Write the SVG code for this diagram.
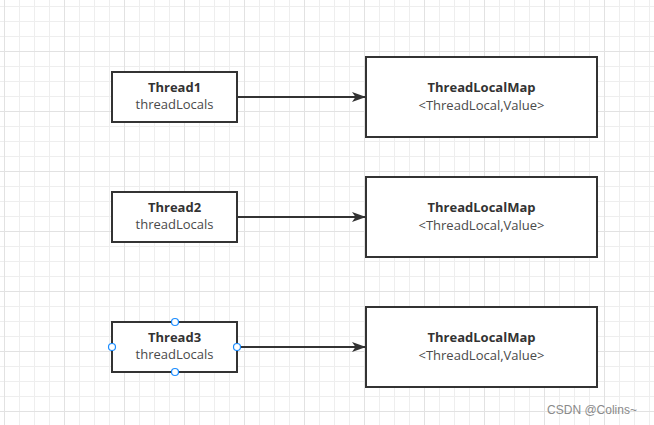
<svg xmlns="http://www.w3.org/2000/svg" width="654" height="425" viewBox="0 0 654 425">
<defs>
<pattern id="minor" x="4" y="6" width="15" height="15" patternUnits="userSpaceOnUse">
<path d="M0.5 0V15M0 0.5H15" stroke="#eeeeee" stroke-width="1" fill="none"/>
</pattern>
<pattern id="major" x="4" y="51" width="60" height="60" patternUnits="userSpaceOnUse">
<path d="M0.5 0V60M0 0.5H60" stroke="#e2e2e2" stroke-width="1" fill="none"/>
</pattern>
<marker id="arr" markerWidth="14" markerHeight="10" refX="13" refY="5" orient="auto" markerUnits="userSpaceOnUse">
<path d="M0 0L14 5L0 10L3.5 5Z" fill="#333333"/>
</marker>
</defs>
<style>
.box{fill:#ffffff;stroke:#333333;stroke-width:2}
.t{font-family:"Open Sans","Noto Sans",sans-serif;font-size:13px;fill:#333333;text-anchor:middle}
.b{font-weight:bold}
.s{fill:#4a4a4a}
.edge{stroke:#333333;stroke-width:2;fill:none}
.h{fill:#ffffff;stroke:#1a8cff;stroke-width:1.2}
</style>
<rect width="654" height="425" fill="#ffffff"/>
<rect width="654" height="425" fill="url(#minor)"/>
<rect width="654" height="425" fill="url(#major)"/>
<g id="connectors">
<path class="edge" d="M237 97H365" marker-end="url(#arr)"/>
<path class="edge" d="M237 217H365" marker-end="url(#arr)"/>
<path class="edge" d="M237 347H365" marker-end="url(#arr)"/>
</g>
<g id="thread1">
<rect class="box" x="112" y="72" width="125" height="50"/>
<text class="t b" x="174.5" y="92">Thread1</text>
<text class="t s" x="174.5" y="109">threadLocals</text>
</g>
<g id="thread2">
<rect class="box" x="112" y="192" width="125" height="50"/>
<text class="t b" x="174.5" y="212">Thread2</text>
<text class="t s" x="174.5" y="229">threadLocals</text>
</g>
<g id="thread3">
<rect class="box" x="112" y="322" width="125" height="50"/>
<text class="t b" x="174.5" y="342">Thread3</text>
<text class="t s" x="174.5" y="359">threadLocals</text>
<circle class="h" cx="175" cy="322" r="3.5"/>
<circle class="h" cx="112" cy="347" r="3.5"/>
<circle class="h" cx="237" cy="347" r="3.5"/>
<circle class="h" cx="175" cy="372" r="3.5"/>
</g>
<g id="map1">
<rect class="box" x="366" y="57" width="231" height="80"/>
<text class="t b" x="481.5" y="92">ThreadLocalMap</text>
<text class="t s" x="481.5" y="110">&lt;ThreadLocal,Value&gt;</text>
</g>
<g id="map2">
<rect class="box" x="366" y="177" width="231" height="80"/>
<text class="t b" x="481.5" y="212">ThreadLocalMap</text>
<text class="t s" x="481.5" y="230">&lt;ThreadLocal,Value&gt;</text>
</g>
<g id="map3">
<rect class="box" x="366" y="307" width="231" height="80"/>
<text class="t b" x="481.5" y="342">ThreadLocalMap</text>
<text class="t s" x="481.5" y="360">&lt;ThreadLocal,Value&gt;</text>
</g>
<text x="592" y="414" font-family="'Liberation Sans',Arial,sans-serif" font-size="12" fill="#8a8a8a" text-anchor="middle">CSDN @Colins~</text>
</svg>
